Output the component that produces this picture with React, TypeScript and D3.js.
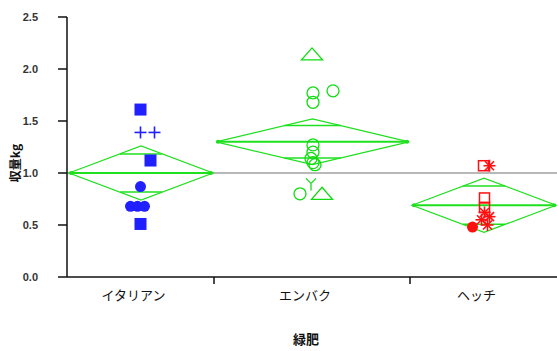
import React from "react";
import * as d3 from "d3";

// Groups (green manure crops) and their observations
const groups = ["イタリアン", "エンバク", "ヘッチ"];
const groupCounts = [9, 12, 9];
const groupMeans = [1.0, 1.3, 0.69];
const groupCI = [0.26, 0.22, 0.26];
const grandMean = 1.0;

const valuesG1 = [1.61, 1.39, 1.39, 1.12, 0.87, 0.68, 0.68, 0.68, 0.51];
const markersG1 = ["square", "plus", "plus", "square", "circleFilled", "circleFilled", "circleFilled", "circleFilled", "square"];
const jitterG1 = [0, 0, 14, 10, 0, -10, -3, 4, 0];

const valuesG2 = [2.14, 1.79, 1.77, 1.68, 1.27, 1.2, 1.14, 1.1, 1.08, 0.9, 0.8, 0.8];
const markersG2 = ["triangle", "circle", "circle", "circle", "circle", "circle", "circle", "circle", "circle", "star", "circle", "triangle"];
const jitterG2 = [0, 21, 1, 1, 1, 1, -1, 1, 3, -1, -12, 10];

const valuesG3 = [1.07, 1.07, 0.76, 0.67, 0.62, 0.58, 0.55, 0.48, 0.5];
const markersG3 = ["squareHollow", "asterisk", "squareHollow", "squareHollow", "asterisk", "asterisk", "asterisk", "circleFilled", "asterisk"];
const jitterG3 = [0, 6, 1, 1, 1, 6, -2, -11, 4];

const yTicks = [0, 0.5, 1.0, 1.5, 2.0, 2.5];
const yTitle = "収量kg";
const xTitle = "緑肥";

const groupColors = ["#2020ff", "#10dd10", "#ff1010"];
const diamondColor = "#1ee01e";

const W = 557;
const H = 351;
const plot = { left: 67, right: 557, top: 17, bottom: 277 };

function Marker({ kind, x, y, color }: { kind: string; x: number; y: number; color: string }) {
  const s = 6;
  switch (kind) {
    case "square":
      return <rect x={x - s} y={y - s} width={2 * s} height={2 * s} fill={color} />;
    case "squareHollow":
      return <rect x={x - 5} y={y - 5} width={10} height={10} fill="none" stroke={color} strokeWidth={1.5} />;
    case "plus":
      return (
        <g stroke={color} strokeWidth={1.6}>
          <line x1={x - 6} x2={x + 6} y1={y} y2={y} />
          <line x1={x} x2={x} y1={y - 6} y2={y + 6} />
        </g>
      );
    case "circleFilled":
      return <circle cx={x} cy={y} r={5.5} fill={color} />;
    case "circle":
      return <circle cx={x} cy={y} r={6} fill="none" stroke={color} strokeWidth={1.3} />;
    case "triangle":
      return (
        <path
          d={`M${x},${y - 6.5}L${x + 10.5},${y + 5.5}L${x - 10.5},${y + 5.5}Z`}
          fill="none"
          stroke={color}
          strokeWidth={1.3}
        />
      );
    case "star":
      return (
        <g stroke={color} strokeWidth={1.3}>
          <line x1={x} x2={x} y1={y} y2={y + 7} />
          <line x1={x} x2={x - 5} y1={y} y2={y - 5} />
          <line x1={x} x2={x + 5} y1={y} y2={y - 5} />
        </g>
      );
    case "asterisk":
      return (
        <g stroke={color} strokeWidth={1.6}>
          <line x1={x - 6} x2={x + 6} y1={y} y2={y} />
          <line x1={x} x2={x} y1={y - 6} y2={y + 6} />
          <line x1={x - 4.5} x2={x + 4.5} y1={y - 4.5} y2={y + 4.5} />
          <line x1={x - 4.5} x2={x + 4.5} y1={y + 4.5} y2={y - 4.5} />
        </g>
      );
    default:
      return null;
  }
}

export default function App() {
  const total = d3.sum(groupCounts);
  const x = d3.scaleLinear().domain([0, total]).range([plot.left, plot.right]);
  const y = d3.scaleLinear().domain([0, 2.5]).range([plot.bottom, plot.top]);

  const starts = groupCounts.map((_, i) => d3.sum(groupCounts.slice(0, i)));
  const allValues = [valuesG1, valuesG2, valuesG3];
  const allMarkers = [markersG1, markersG2, markersG3];
  const allJitter = [jitterG1, jitterG2, jitterG3];

  const font = "'Liberation Sans', Arial, sans-serif";
  const jpFont = "'Noto Sans CJK JP', sans-serif";

  return (
    <svg
      width={W}
      height={H}
      style={{ position: "absolute", left: 0, top: 0, background: "#fff" }}
    >
      {/* grand mean reference line */}
      <line
        x1={plot.left}
        x2={plot.right}
        y1={y(grandMean)}
        y2={y(grandMean)}
        stroke="#b8b8b8"
        strokeWidth={2}
      />

      {/* means diamonds */}
      {groups.map((g, i) => {
        const x0 = x(starts[i]) + 2;
        const x1 = x(starts[i] + groupCounts[i]) - 1;
        const xm = (x0 + x1) / 2;
        const m = groupMeans[i];
        const ci = groupCI[i];
        const yt = y(m + ci);
        const yb = y(m - ci);
        const ym = y(m);
        const ov = ci / Math.SQRT2;
        const frac = 1 - 1 / Math.SQRT2;
        const half = ((x1 - x0) / 2) * frac;
        return (
          <g key={g} stroke={diamondColor} fill="none">
            <path d={`M${x0},${ym}L${xm},${yt}L${x1},${ym}L${xm},${yb}Z`} strokeWidth={1.2} />
            <line x1={x0} x2={x1} y1={ym} y2={ym} strokeWidth={2} />
            <line x1={xm - half} x2={xm + half} y1={y(m + ov)} y2={y(m + ov)} strokeWidth={1.5} />
            <line x1={xm - half} x2={xm + half} y1={y(m - ov)} y2={y(m - ov)} strokeWidth={1.5} />
            <circle cx={x0 + 2} cy={ym} r={2} fill={diamondColor} stroke="none" />
            <circle cx={x1 - 2} cy={ym} r={2} fill={diamondColor} stroke="none" />
          </g>
        );
      })}

      {/* observations */}
      {allValues.map((vals, gi) => {
        const cx = x(starts[gi] + groupCounts[gi] / 2);
        return (
          <g key={gi}>
            {vals.map((v, k) => (
              <Marker
                key={k}
                kind={allMarkers[gi][k]}
                x={cx + allJitter[gi][k]}
                y={y(v)}
                color={groupColors[gi]}
              />
            ))}
          </g>
        );
      })}

      {/* y axis */}
      <line x1={plot.left} x2={plot.left} y1={plot.top} y2={plot.bottom} stroke="#111" strokeWidth={1.5} />
      {yTicks.map((t) => (
        <g key={t}>
          <line x1={plot.left - 9} x2={plot.left} y1={y(t)} y2={y(t)} stroke="#111" strokeWidth={1.5} />
          <text
            x={38}
            y={y(t)}
            dy="0.35em"
            textAnchor="end"
            fontFamily={font}
            fontSize={11}
            fontWeight="bold"
            fill="#333"
          >
            {d3.format(".1f")(t)}
          </text>
        </g>
      ))}

      {/* x axis */}
      <line x1={plot.left} x2={plot.right} y1={plot.bottom} y2={plot.bottom} stroke="#111" strokeWidth={1.5} />
      {starts.slice(1).map((s) => (
        <line key={s} x1={x(s)} x2={x(s)} y1={plot.bottom} y2={plot.bottom + 7} stroke="#111" strokeWidth={1.5} />
      ))}
      {groups.map((g, i) => (
        <text
          key={g}
          x={x(starts[i] + groupCounts[i] / 2) - 7}
          y={300}
          textAnchor="middle"
          fontFamily={jpFont}
          fontSize={13}
          fill="#111"
        >
          {g}
        </text>
      ))}

      {/* axis titles */}
      <text
        x={306}
        y={344}
        textAnchor="middle"
        fontFamily={jpFont}
        fontSize={13}
        fontWeight="bold"
        fill="#111"
      >
        {xTitle}
      </text>
      <text
        transform={`translate(20,163) rotate(-90)`}
        textAnchor="middle"
        fontFamily={jpFont}
        fontSize={12}
        fontWeight="bold"
        fill="#111"
      >
        {yTitle}
      </text>
    </svg>
  );
}
